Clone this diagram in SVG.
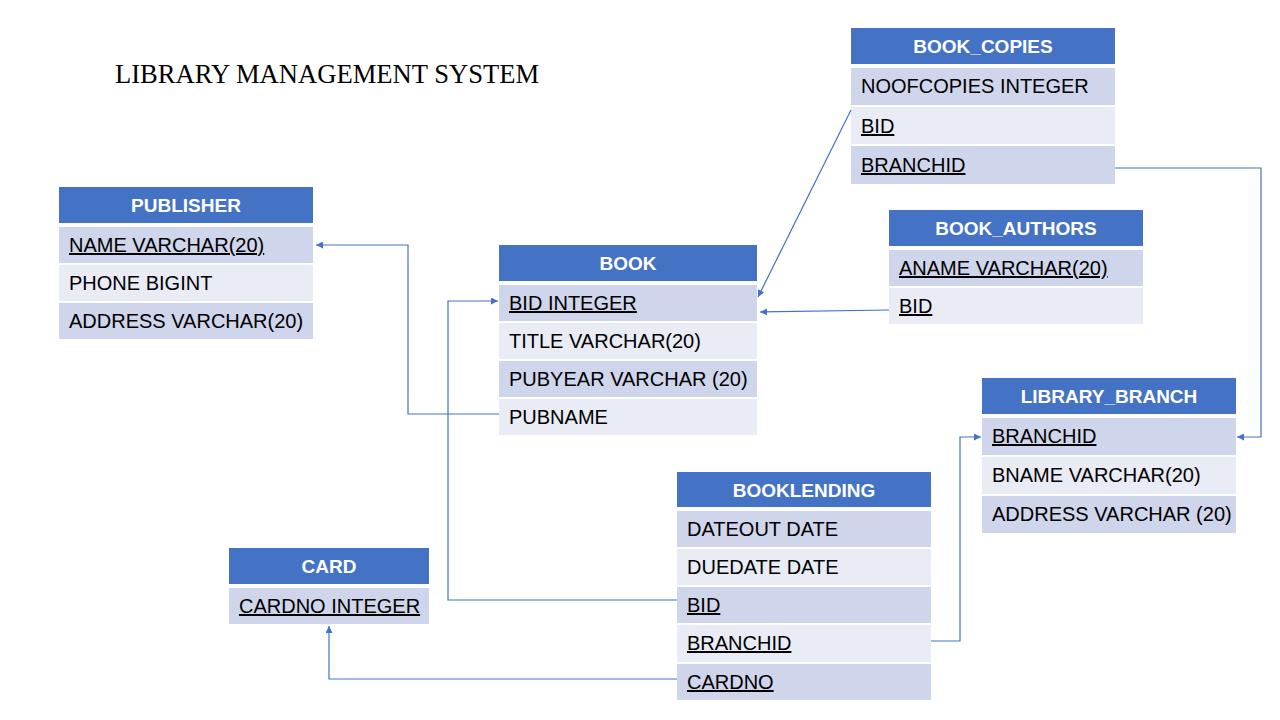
<svg xmlns="http://www.w3.org/2000/svg" width="1280" height="720" viewBox="0 0 1280 720">
<style>
.hd{fill:#4472C4}
.dk{fill:#CFD5EA}
.lt{fill:#E9EBF5}
.ht{font-family:"Liberation Sans",Arial,sans-serif;font-size:19px;font-weight:bold;fill:#fff;text-anchor:middle}
.rt{font-family:"Liberation Sans",Arial,sans-serif;font-size:20px;fill:#000}
.u{text-decoration:underline}
.title{font-family:"Liberation Serif","Times New Roman",serif;font-size:26.6px;fill:#000}
.cn{fill:none;stroke:#4472C4;stroke-width:1.2}
</style>
<defs>
<marker id="ah" viewBox="0 0 10 10" refX="10" refY="5" markerWidth="7" markerHeight="7" markerUnits="userSpaceOnUse" orient="auto">
<path d="M0,0 L10,5 L0,10 z" fill="#4472C4"/>
</marker>
</defs>
<rect width="1280" height="720" fill="#fff"/>
<text class="title" x="115" y="83">LIBRARY MANAGEMENT SYSTEM</text>

<g id="publisher">
<rect class="hd" x="59" y="187" width="254" height="36"/>
<text class="ht" x="186" y="212">PUBLISHER</text>
<rect class="dk" x="59" y="227" width="254" height="36"/>
<rect class="lt" x="59" y="265" width="254" height="36"/>
<rect class="dk" x="59" y="303" width="254" height="36"/>
<text class="rt u" x="69" y="252">NAME VARCHAR(20)</text>
<text class="rt" x="69" y="290">PHONE BIGINT</text>
<text class="rt" x="69" y="328">ADDRESS VARCHAR(20)</text>
</g>

<g id="book">
<rect class="hd" x="499" y="245" width="258" height="36"/>
<text class="ht" x="628" y="270">BOOK</text>
<rect class="dk" x="499" y="285" width="258" height="36"/>
<rect class="lt" x="499" y="323" width="258" height="36"/>
<rect class="dk" x="499" y="361" width="258" height="36"/>
<rect class="lt" x="499" y="399" width="258" height="36"/>
<text class="rt u" x="509" y="310">BID INTEGER</text>
<text class="rt" x="509" y="348">TITLE VARCHAR(20)</text>
<text class="rt" x="509" y="386">PUBYEAR VARCHAR (20)</text>
<text class="rt" x="509" y="424">PUBNAME</text>
</g>

<g id="book_copies">
<rect class="hd" x="851" y="28" width="264" height="36"/>
<text class="ht" x="983" y="53">BOOK_COPIES</text>
<rect class="dk" x="851" y="68" width="264" height="37"/>
<rect class="lt" x="851" y="107" width="264" height="37"/>
<rect class="dk" x="851" y="146" width="264" height="38"/>
<text class="rt" x="861" y="93">NOOFCOPIES INTEGER</text>
<text class="rt u" x="861" y="133">BID</text>
<text class="rt u" x="861" y="172">BRANCHID</text>
</g>

<g id="book_authors">
<rect class="hd" x="889" y="210" width="254" height="36"/>
<text class="ht" x="1016" y="235">BOOK_AUTHORS</text>
<rect class="dk" x="889" y="250" width="254" height="36"/>
<rect class="lt" x="889" y="288" width="254" height="36"/>
<text class="rt u" x="899" y="275">ANAME VARCHAR(20)</text>
<text class="rt u" x="899" y="313">BID</text>
</g>

<g id="library_branch">
<rect class="hd" x="982" y="378" width="254" height="36"/>
<text class="ht" x="1109" y="403">LIBRARY_BRANCH</text>
<rect class="dk" x="982" y="418" width="254" height="37"/>
<rect class="lt" x="982" y="457" width="254" height="37"/>
<rect class="dk" x="982" y="496" width="254" height="37"/>
<text class="rt u" x="992" y="443">BRANCHID</text>
<text class="rt" x="992" y="482">BNAME VARCHAR(20)</text>
<text class="rt" x="992" y="521">ADDRESS VARCHAR (20)</text>
</g>

<g id="booklending">
<rect class="hd" x="677" y="472" width="254" height="35"/>
<text class="ht" x="804" y="497">BOOKLENDING</text>
<rect class="dk" x="677" y="511" width="254" height="36"/>
<rect class="lt" x="677" y="549" width="254" height="36"/>
<rect class="dk" x="677" y="587" width="254" height="36"/>
<rect class="lt" x="677" y="625" width="254" height="37"/>
<rect class="dk" x="677" y="664" width="254" height="36"/>
<text class="rt" x="687" y="536">DATEOUT DATE</text>
<text class="rt" x="687" y="574">DUEDATE DATE</text>
<text class="rt u" x="687" y="612">BID</text>
<text class="rt u" x="687" y="650">BRANCHID</text>
<text class="rt u" x="687" y="689">CARDNO</text>
</g>

<g id="card">
<rect class="hd" x="229" y="548" width="200" height="36"/>
<text class="ht" x="329" y="573">CARD</text>
<rect class="dk" x="229" y="588" width="200" height="36"/>
<text class="rt u" x="239" y="613">CARDNO INTEGER</text>
</g>

<g id="connectors">
<polyline class="cn" points="499,414 408,414 408,245 316,245" marker-end="url(#ah)"/>
<polyline class="cn" points="677,600 448,600 448,301 498,301" marker-end="url(#ah)"/>
<line class="cn" x1="851" y1="110" x2="758" y2="297" marker-end="url(#ah)"/>
<line class="cn" x1="889" y1="310" x2="760" y2="312" marker-end="url(#ah)"/>
<polyline class="cn" points="1115,168 1261,168 1261,437 1237,437" marker-end="url(#ah)"/>
<polyline class="cn" points="931,641 960,641 960,437 981,437" marker-end="url(#ah)"/>
<polyline class="cn" points="677,679 329,679 329,626" marker-end="url(#ah)"/>
</g>
</svg>
